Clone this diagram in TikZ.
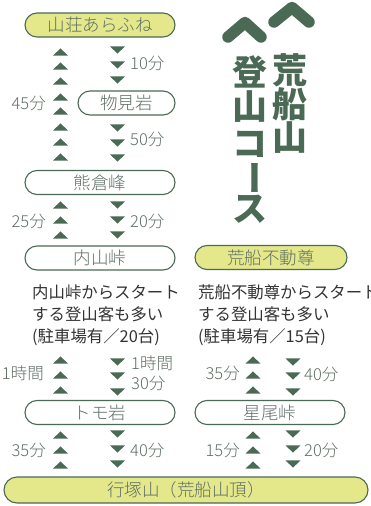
\documentclass[tikz,border=0pt]{standalone}
\usepackage{fontspec}
\setmainfont{Noto Sans CJK JP}
\IfFontExistsTF{Noto Sans CJK JP Light}{\newfontfamily\jpl{Noto Sans CJK JP Light}}{\newfontfamily\jpl{Noto Sans CJK JP}}
\definecolor{dgreen}{HTML}{4A6A55}
\definecolor{ylw}{HTML}{E4E88B}
\definecolor{txtg}{HTML}{5E6E64}
\definecolor{txtd}{HTML}{333333}
\tikzset{
  pill/.style={draw=dgreen, line width=1.1pt, rounded corners=12pt, minimum height=24pt, minimum width=150pt, inner sep=0pt, text=txtg, font=\jpl\fontsize{17.5}{17.5}\selectfont},
  ypill/.style={pill, fill=ylw},
  wpill/.style={pill, fill=white},
  lbl/.style={text=txtg, font=\jpl\fontsize{16.5}{17}\selectfont, inner sep=0pt},
  desc/.style={text=txtd, font=\fontsize{16.4}{22}\selectfont, inner sep=0pt, align=left, anchor=north west},
  ttl/.style={text=dgreen, font=\fontsize{35}{35}\selectfont\bfseries, inner sep=0pt},
  uptri/.pic={\fill[dgreen] (-7.5,3.7) -- (7.5,3.7) -- (0,-3.7) -- cycle;},
  dntri/.pic={\fill[dgreen] (-7.5,-3.7) -- (7.5,-3.7) -- (0,3.7) -- cycle;},
  chev/.style={draw=dgreen, line width=11.5pt, line cap=round, line join=round}
}
\begin{document}
\begin{tikzpicture}[x=1pt,y=-1pt]
\useasboundingbox (0,0) rectangle (370,506);
% title
\draw[chev] (228,37) -- (245,22.5) -- (261,37);
\draw[chev] (274,22) -- (292,7.5) -- (309,22);
\node[ttl] (t1) at (290,70) {荒};
\node[ttl] (t2) at (290,104) {船};
\node[ttl] (t3) at (290,138) {山};
\node[ttl] (t4) at (250,72) {登};
\node[ttl] (t5) at (250,107) {山};
\node[ttl] (t6) at (250,144) {コ};
\node[ttl,rotate=-90] (t7) at (250,178) {ー};
\node[ttl] (t8) at (250,209) {ス};
% nodes
\node[ypill] (sanso) at (100,25) {山荘あらふね};
\node[wpill, minimum width=97pt] (mono) at (126.5,103) {物見岩};
\node[wpill] (kuma) at (100,182.5) {熊倉峰};
\node[wpill] (uchi) at (100,258) {内山峠};
\node[ypill, minimum width=152pt] (fudo) at (271,257.5) {荒船不動尊};
\node[wpill] (tomo) at (100,412.5) {トモ岩};
\node[wpill] (hoshi) at (270,412.5) {星尾峠};
\node[ypill, minimum width=364pt, minimum height=26pt, rounded corners=13pt] (gyo) at (186,490) {行塚山（荒船山頂）};
% descriptions
\node[desc] (d1) at (32,284.5) {内山峠からスタート\\する登山客も多い\\(駐車場有／20台)};
\node[desc] (d2) at (198,284) {荒船不動尊からスタート\\する登山客も多い\\(駐車場有／15台)};
% triangles top section
\foreach \y in {52,66,81,97,111,127,142,157} \pic at (60.5,\y) {uptri};
\foreach \y in {50,65,80,128,143,158} \pic at (117.5,\y) {dntri};
\node[lbl, anchor=west] (l10) at (130,63) {10分};
\node[lbl, anchor=east] (l45) at (46,103) {45分};
\node[lbl, anchor=west] (l50) at (130,139) {50分};
% kuma - uchi
\foreach \y in {205,220,235} {\pic at (60.5,\y) {uptri}; \pic at (117.5,\y) {dntri};}
\node[lbl, anchor=east] (l25) at (46,221) {25分};
\node[lbl, anchor=west] (l20) at (130,221) {20分};
% uchi - tomo
\foreach \y in {360,375,390} {\pic at (60.5,\y) {uptri}; \pic at (253,\y) {uptri};}
\foreach \y in {362,376,392} {\pic at (117.5,\y) {dntri}; \pic at (293,\y) {dntri};}
\node[lbl, anchor=east] (l1h) at (44,373) {1時間};
\node[lbl, anchor=west] (r1h) at (131,363) {1時間};
\node[lbl, anchor=west] (r30) at (131,383) {30分};
\node[lbl, anchor=east] (l35a) at (240,373) {35分};
\node[lbl, anchor=west] (r40a) at (304,374) {40分};
% tomo - gyo
\foreach \y in {435,450,465} {\pic at (60.5,\y) {uptri}; \pic at (253,\y) {uptri};}
\foreach \y in {434,449,464} {\pic at (117.5,\y) {dntri}; \pic at (293,\y) {dntri};}
\node[lbl, anchor=east] (l35b) at (46,450) {35分};
\node[lbl, anchor=west] (r40b) at (130,450) {40分};
\node[lbl, anchor=east] (l15) at (240,450) {15分};
\node[lbl, anchor=west] (r20b) at (304,450) {20分};
\end{tikzpicture}
\end{document}
